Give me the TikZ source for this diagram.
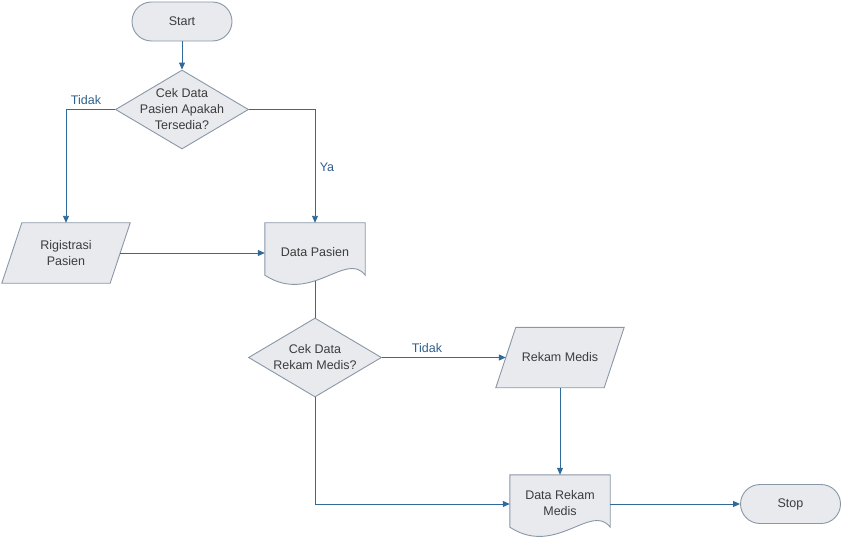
\documentclass[tikz,border=0pt]{standalone}
\usepackage{fontspec}
\setmainfont{Liberation Sans}
\usetikzlibrary{shapes.geometric,arrows.meta,calc}

\definecolor{shapefill}{HTML}{E8EAEE}
\definecolor{shapeline}{HTML}{8A97A8}
\definecolor{flowline}{HTML}{2F6A98}
\definecolor{bodytext}{HTML}{3C3C3C}
\definecolor{labeltext}{HTML}{2F5F8C}

\tikzset{
  outline/.style={draw=shapeline, fill=shapefill, line width=0.9pt},
  txt/.style={text=bodytext, align=center, font=\fontsize{12.5}{16}\selectfont, inner sep=0pt},
  terminal/.style={outline, rounded corners=19.5pt, minimum width=100pt, minimum height=39pt, txt},
  decision/.style={outline, diamond, minimum width=133pt, minimum height=79pt, inner sep=0pt},
  iobox/.style={txt, minimum width=108pt, minimum height=60pt},
  docbox/.style={txt, minimum width=100pt, minimum height=58pt},
  flow/.style={draw=flowline, line width=0.95pt, -{Triangle[length=7pt,width=6pt]}},
  flowplain/.style={draw=flowline, line width=0.95pt},
  branch/.style={text=labeltext, font=\fontsize{12.5}{15}\selectfont, inner sep=0pt},
}

% parallelogram drawn around a named text box
\newcommand\ioshape[1]{%
  \path[outline] ($(#1.north west)+(10,0)$) -- ($(#1.north east)+(10,0)$)
    -- ($(#1.south east)+(-10,0)$) -- ($(#1.south west)+(-10,0)$) -- cycle;}
% document symbol with a wavy bottom edge
\newcommand\docshape[1]{%
  \path[outline] (#1.north west) -- (#1.north east) -- ($(#1.south east)+(0,-6)$)
    .. controls ($(#1.south east)+(-19,-31)$) and ($(#1.south west)+(46,24)$)
    .. ($(#1.south west)+(0,-6)$) -- cycle;}

\begin{document}
\begin{tikzpicture}[x=1pt,y=-1pt]
  \useasboundingbox (0,0) rectangle (842,537);

  % terminals and decisions
  \node[terminal] (start) at (182,21.5) {Start};
  \node[decision] (d1) at (182,109.5) {};
  \node[txt] (d1t) at (d1) {Cek Data\\Pasien Apakah\\Tersedia?};

  % registration input
  \node[iobox] (reg) at (66,253) {};
  \ioshape{reg}
  \node[txt] (regt) at (reg) {Rigistrasi\\Pasien};

  % patient data document
  \node[docbox] (dp) at (315,252) {};
  \docshape{dp}
  \node[txt] (dpt) at (315,252) {Data Pasien};

  \node[decision] (d2) at (315,357.5) {};
  \node[txt] (d2t) at (d2) {Cek Data\\Rekam Medis?};

  % medical record input
  \node[iobox] (rm) at (560,357.5) {};
  \ioshape{rm}
  \node[txt] (rmt) at (rm) {Rekam Medis};

  % medical record document
  \node[docbox] (drm) at (560,504) {};
  \docshape{drm}
  \node[txt] (drmt) at (560,503) {Data Rekam\\Medis};

  \node[terminal] (stop) at (790.5,504) {Stop};

  % connectors
  \path[flow] (start) -- (d1);
  \path[flow] (d1.west) -| (reg.north);
  \path[flow] (d1.east) -| (dp.north);
  \path[flow] (reg.east) -- (reg.east -| dp.west);
  \path[flowplain] (dp.south) -- (d2.north);
  \path[flow] (d2.east) -- (d2.east -| rm.west);
  \path[flow] (d2.south) |- (drm.west);
  \path[flow] (rm.south) -- (drm.north);
  \path[flow] (drm.east) -- (stop.west);

  % branch labels
  \node[branch] (lb1) at (86,100) {Tidak};
  \node[branch] (lb2) at (327,167) {Ya};
  \node[branch] (lb3) at (427,348) {Tidak};
\end{tikzpicture}
\end{document}
